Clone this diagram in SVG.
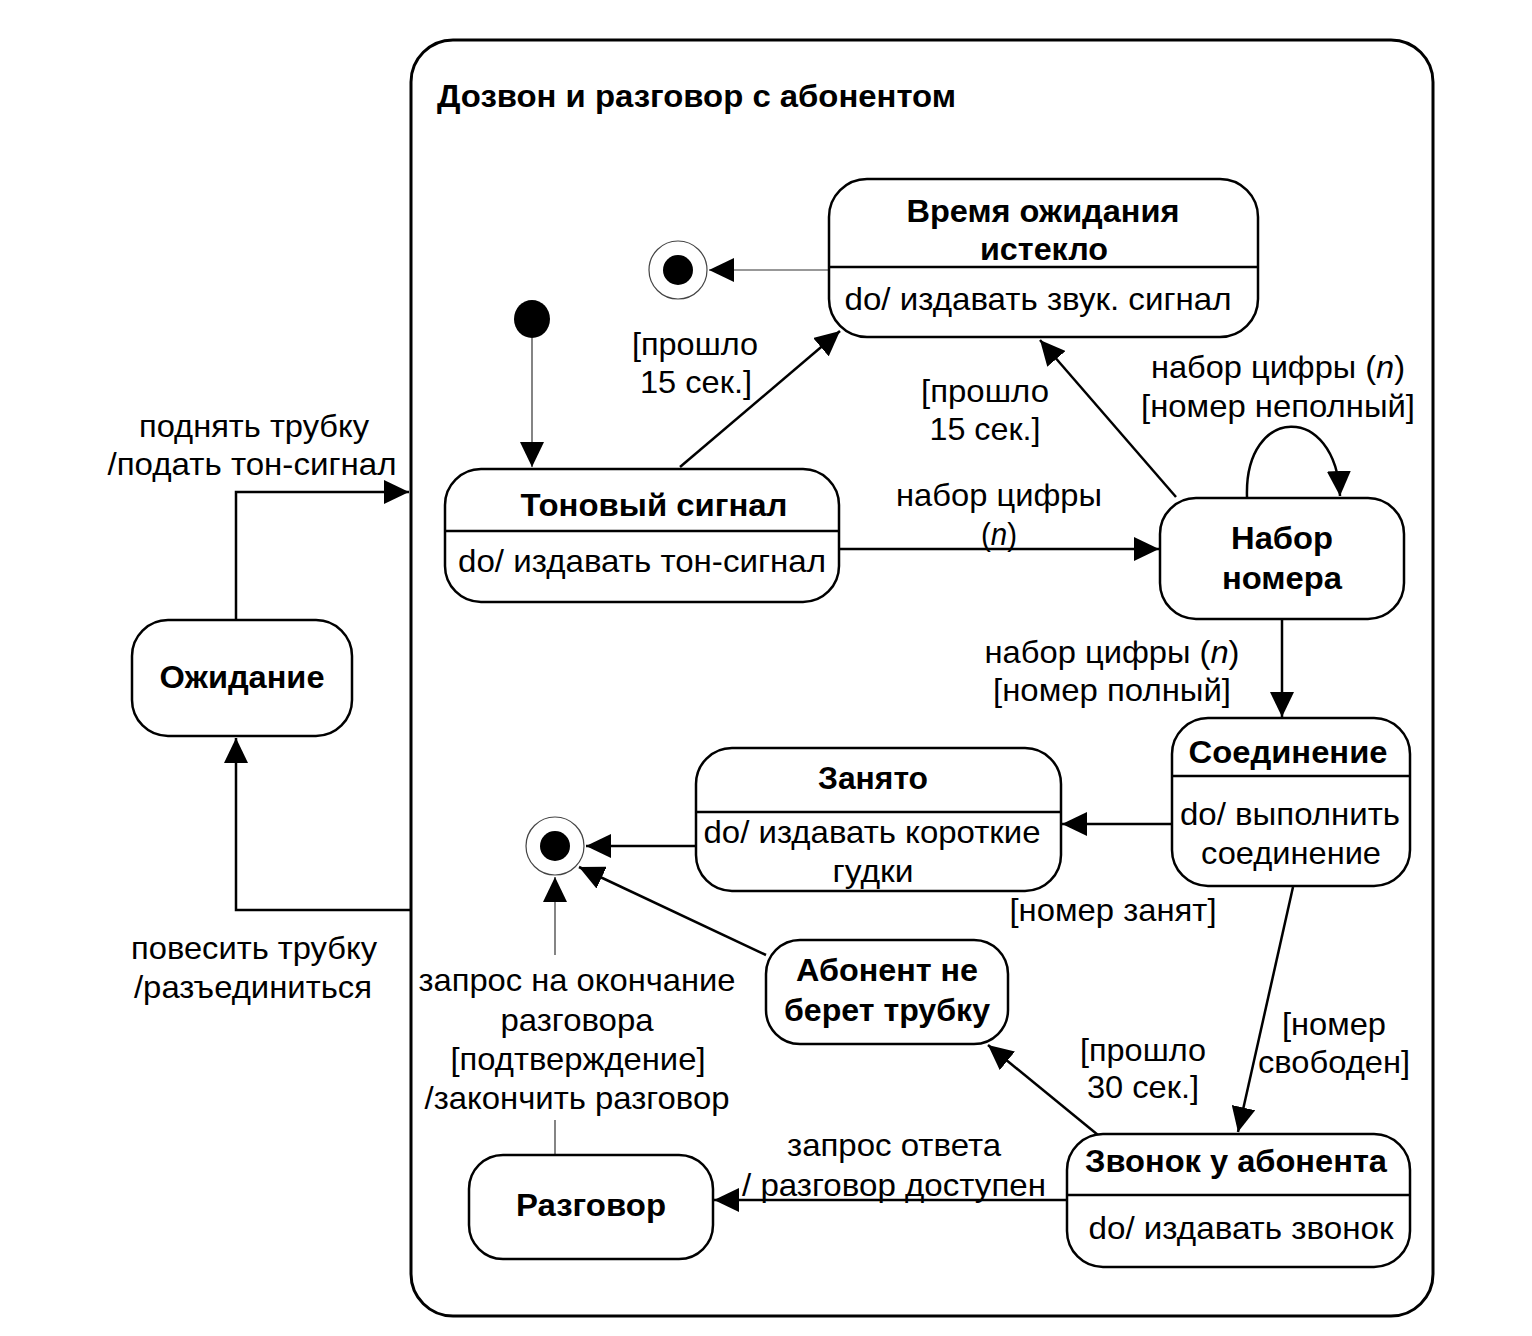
<svg xmlns="http://www.w3.org/2000/svg" width="1532" height="1336" viewBox="0 0 1532 1336">
  <style>
    text { font-family: "Liberation Sans", Arial, sans-serif; font-size: 32px; fill: #000; }
    .b { font-weight: bold; }
    .m { text-anchor: middle; }
    .box { fill: #fff; stroke: #000; stroke-width: 2.5; }
    .div { stroke: #000; stroke-width: 2.5; }
    .edge { fill: none; stroke: #000; stroke-width: 2.5; }
    .thin { fill: none; stroke: #333; stroke-width: 1.2; }
    .dot { fill: #000; }
    .ring { fill: #fff; stroke: #444; stroke-width: 1.2; }
  </style>
  <defs>
    <marker id="arrow" markerUnits="userSpaceOnUse" markerWidth="26" markerHeight="24" refX="25" refY="12" orient="auto">
      <path d="M0,0 L25,12 L0,24 z" fill="#000"/>
    </marker>
  </defs>

  <rect width="1532" height="1336" fill="#fff"/>

  <!-- composite state -->
  <g id="composite">
    <rect x="411" y="40" width="1022" height="1276" rx="42" ry="42" fill="none" stroke="#000" stroke-width="3"/>
    <text class="b" x="437" y="107" textLength="519" lengthAdjust="spacingAndGlyphs">Дозвон и разговор с абонентом</text>
  </g>

  <!-- connectors -->
  <g id="connectors">
    <!-- Ожидание -> composite -->
    <path class="edge" d="M236,620 L236,492 L409,492" marker-end="url(#arrow)"/>
    <!-- composite -> Ожидание -->
    <path class="edge" d="M411,910 L236,910 L236,738" marker-end="url(#arrow)"/>
    <!-- initial -> Тоновый сигнал -->
    <path class="thin" d="M532,338 L532,467" marker-end="url(#arrow)"/>
    <!-- Время ожидания истекло -> final -->
    <path class="thin" d="M829,270 L709,270" marker-end="url(#arrow)"/>
    <!-- Тоновый сигнал -> Время ожидания истекло -->
    <path class="edge" d="M680,467 L840,331" marker-end="url(#arrow)"/>
    <!-- Тоновый сигнал -> Набор номера -->
    <path class="edge" d="M839,549 L1159,549" marker-end="url(#arrow)"/>
    <!-- Набор номера -> Время ожидания истекло -->
    <path class="edge" d="M1176,497 L1040,340" marker-end="url(#arrow)"/>
    <!-- Набор номера self loop -->
    <path class="edge" d="M1247,497 C1244,405 1336,402 1340,496" marker-end="url(#arrow)"/>
    <!-- Набор номера -> Соединение -->
    <path class="edge" d="M1282,620 L1282,717" marker-end="url(#arrow)"/>
    <!-- Соединение -> Занято -->
    <path class="edge" d="M1172,824 L1062,824" marker-end="url(#arrow)"/>
    <!-- Соединение -> Звонок у абонента -->
    <path class="edge" d="M1293,887 L1238,1132" marker-end="url(#arrow)"/>
    <!-- Занято -> final -->
    <path class="edge" d="M696,846 L586,846" marker-end="url(#arrow)"/>
    <!-- Абонент не берет трубку -> final -->
    <path class="edge" d="M766,955 L579,867" marker-end="url(#arrow)"/>
    <!-- Звонок у абонента -> Абонент не берет трубку -->
    <path class="edge" d="M1098,1135 L988,1045" marker-end="url(#arrow)"/>
    <!-- Звонок у абонента -> Разговор -->
    <path class="edge" d="M1067,1200 L714,1200" marker-end="url(#arrow)"/>
    <!-- Разговор -> final -->
    <path class="thin" d="M555,1155 L555,1120"/>
    <path class="thin" d="M555,955 L555,877" marker-end="url(#arrow)"/>

    <!-- transition labels -->
    <text class="m" x="254" y="437" textLength="230" lengthAdjust="spacingAndGlyphs">поднять трубку</text>
    <text class="m" x="252" y="475" textLength="289" lengthAdjust="spacingAndGlyphs">/подать тон-сигнал</text>
    <text class="m" x="254" y="959" textLength="246" lengthAdjust="spacingAndGlyphs">повесить трубку</text>
    <text class="m" x="253" y="998" textLength="238" lengthAdjust="spacingAndGlyphs">/разъединиться</text>
    <text class="m" x="695" y="355" textLength="126" lengthAdjust="spacingAndGlyphs">[прошло</text>
    <text class="m" x="696" y="393" textLength="112" lengthAdjust="spacingAndGlyphs">15 сек.]</text>
    <text class="m" x="985" y="402" textLength="128" lengthAdjust="spacingAndGlyphs">[прошло</text>
    <text class="m" x="985" y="440" textLength="111" lengthAdjust="spacingAndGlyphs">15 сек.]</text>
    <text class="m" x="1278" y="378" textLength="254" lengthAdjust="spacingAndGlyphs">набор цифры (<tspan font-style="italic">n</tspan>)</text>
    <text class="m" x="1278" y="417" textLength="274" lengthAdjust="spacingAndGlyphs">[номер неполный]</text>
    <text class="m" x="999" y="506" textLength="206" lengthAdjust="spacingAndGlyphs">набор цифры</text>
    <text class="m" x="999" y="545" textLength="36" lengthAdjust="spacingAndGlyphs">(<tspan font-style="italic">n</tspan>)</text>
    <text class="m" x="1112" y="663" textLength="255" lengthAdjust="spacingAndGlyphs">набор цифры (<tspan font-style="italic">n</tspan>)</text>
    <text class="m" x="1112" y="701" textLength="238" lengthAdjust="spacingAndGlyphs">[номер полный]</text>
    <text class="m" x="1113" y="921" textLength="207" lengthAdjust="spacingAndGlyphs">[номер занят]</text>
    <text class="m" x="1334" y="1035" textLength="104" lengthAdjust="spacingAndGlyphs">[номер</text>
    <text class="m" x="1334" y="1073" textLength="152" lengthAdjust="spacingAndGlyphs">свободен]</text>
    <text class="m" x="1143" y="1061" textLength="126" lengthAdjust="spacingAndGlyphs">[прошло</text>
    <text class="m" x="1143" y="1098" textLength="112" lengthAdjust="spacingAndGlyphs">30 сек.]</text>
    <text class="m" x="577" y="991" textLength="317" lengthAdjust="spacingAndGlyphs">запрос на окончание</text>
    <text class="m" x="577" y="1031" textLength="153" lengthAdjust="spacingAndGlyphs">разговора</text>
    <text class="m" x="578" y="1070" textLength="255" lengthAdjust="spacingAndGlyphs">[подтверждение]</text>
    <text class="m" x="577" y="1109" textLength="305" lengthAdjust="spacingAndGlyphs">/закончить разговор</text>
    <text class="m" x="894" y="1156" textLength="214" lengthAdjust="spacingAndGlyphs">запрос ответа</text>
    <text class="m" x="894" y="1196" textLength="304" lengthAdjust="spacingAndGlyphs">/ разговор доступен</text>
  </g>

  <!-- pseudo states -->
  <g id="initial">
    <ellipse class="dot" cx="532" cy="319" rx="18" ry="19"/>
  </g>
  <g id="final-top">
    <circle class="ring" cx="678" cy="270" r="29"/>
    <circle class="dot" cx="678" cy="270" r="15"/>
  </g>
  <g id="final-bottom">
    <circle class="ring" cx="555" cy="846" r="29"/>
    <circle class="dot" cx="555" cy="846" r="15"/>
  </g>

  <!-- states -->
  <g id="waiting">
    <rect class="box" x="132" y="620" width="220" height="116" rx="36" ry="36"/>
    <text class="b m" x="242" y="688" textLength="165" lengthAdjust="spacingAndGlyphs">Ожидание</text>
  </g>

  <g id="timeout">
    <rect class="box" x="829" y="179" width="429" height="158" rx="38" ry="38"/>
    <line class="div" x1="829" y1="267" x2="1258" y2="267"/>
    <text class="b m" x="1043" y="222" textLength="273" lengthAdjust="spacingAndGlyphs">Время ожидания</text>
    <text class="b m" x="1044" y="260" textLength="128" lengthAdjust="spacingAndGlyphs">истекло</text>
    <text class="m" x="1038" y="310" textLength="387" lengthAdjust="spacingAndGlyphs">do/ издавать звук. сигнал</text>
  </g>

  <g id="dial-tone">
    <rect class="box" x="445" y="469" width="394" height="133" rx="36" ry="36"/>
    <line class="div" x1="445" y1="531" x2="839" y2="531"/>
    <text class="b m" x="654" y="516" textLength="267" lengthAdjust="spacingAndGlyphs">Тоновый сигнал</text>
    <text class="m" x="642" y="572" textLength="368" lengthAdjust="spacingAndGlyphs">do/ издавать тон-сигнал</text>
  </g>

  <g id="dialing">
    <rect class="box" x="1160" y="498" width="244" height="121" rx="36" ry="36"/>
    <text class="b m" x="1282" y="549" textLength="102" lengthAdjust="spacingAndGlyphs">Набор</text>
    <text class="b m" x="1282" y="589" textLength="120" lengthAdjust="spacingAndGlyphs">номера</text>
  </g>

  <g id="connecting">
    <rect class="box" x="1172" y="718" width="238" height="168" rx="36" ry="36"/>
    <line class="div" x1="1172" y1="776" x2="1410" y2="776"/>
    <text class="b m" x="1288" y="763" textLength="199" lengthAdjust="spacingAndGlyphs">Соединение</text>
    <text class="m" x="1290" y="825" textLength="220" lengthAdjust="spacingAndGlyphs">do/ выполнить</text>
    <text class="m" x="1291" y="864" textLength="180" lengthAdjust="spacingAndGlyphs">соединение</text>
  </g>

  <g id="busy">
    <rect class="box" x="696" y="748" width="365" height="143" rx="36" ry="36"/>
    <line class="div" x1="696" y1="812" x2="1061" y2="812"/>
    <text class="b m" x="873" y="789" textLength="110" lengthAdjust="spacingAndGlyphs">Занято</text>
    <text class="m" x="872" y="843" textLength="337" lengthAdjust="spacingAndGlyphs">do/ издавать короткие</text>
    <text class="m" x="873" y="882" textLength="81" lengthAdjust="spacingAndGlyphs">гудки</text>
  </g>

  <g id="no-answer">
    <rect class="box" x="766" y="940" width="242" height="104" rx="34" ry="34"/>
    <text class="b m" x="887" y="981" textLength="182" lengthAdjust="spacingAndGlyphs">Абонент не</text>
    <text class="b m" x="887" y="1021" textLength="206" lengthAdjust="spacingAndGlyphs">берет трубку</text>
  </g>

  <g id="ringing">
    <rect class="box" x="1067" y="1134" width="343" height="133" rx="36" ry="36"/>
    <line class="div" x1="1067" y1="1195" x2="1410" y2="1195"/>
    <text class="b m" x="1236" y="1172" textLength="302" lengthAdjust="spacingAndGlyphs">Звонок у абонента</text>
    <text class="m" x="1241" y="1239" textLength="305" lengthAdjust="spacingAndGlyphs">do/ издавать звонок</text>
  </g>

  <g id="talking">
    <rect class="box" x="469" y="1155" width="244" height="104" rx="34" ry="34"/>
    <text class="b m" x="591" y="1216" textLength="150" lengthAdjust="spacingAndGlyphs">Разговор</text>
  </g>
</svg>
